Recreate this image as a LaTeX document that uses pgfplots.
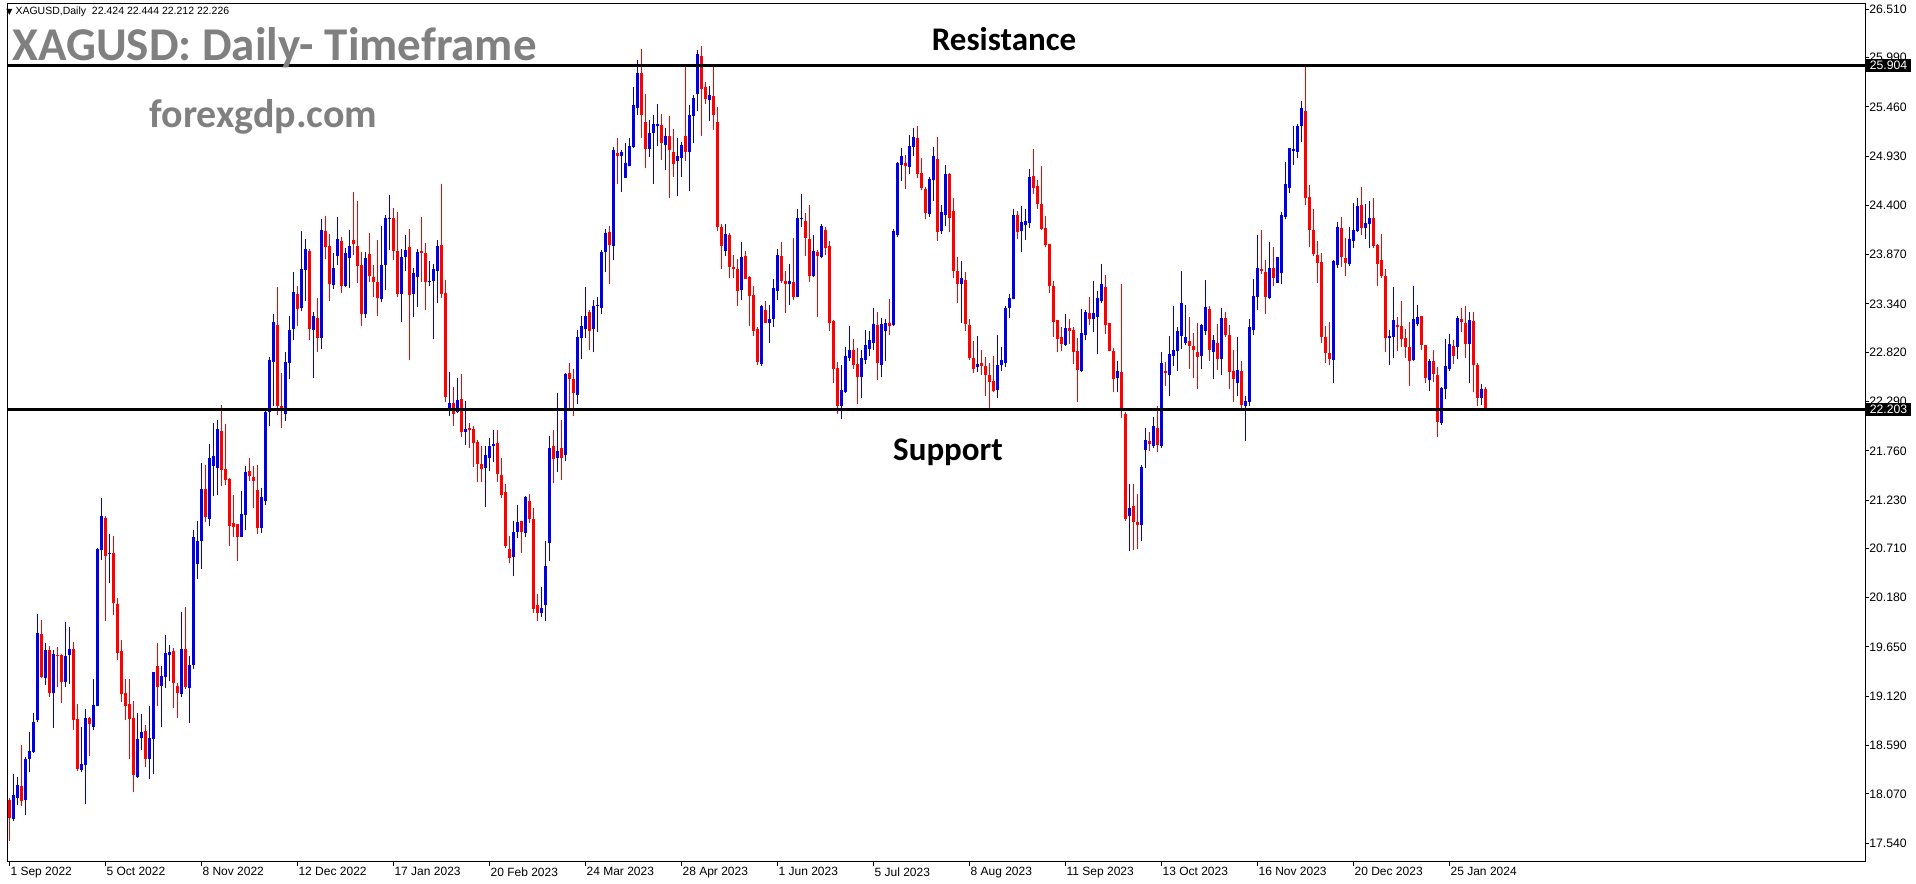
\documentclass[border=0pt]{standalone}
\usepackage{fontspec}
\usepackage{pgfplots}
\usepackage{pgfplotstable}
\pgfplotsset{compat=1.18}
\setmainfont{Liberation Sans}
\newfontfamily\calib{Carlito}
\newfontfamily\dejavu{DejaVu Sans}
\definecolor{upc}{RGB}{0,0,225}
\definecolor{dnc}{RGB}{255,0,0}
\definecolor{titlegray}{RGB}{128,128,128}

% up (blue) candles: index, open, high, low, close
\pgfplotstableread{
i o h l c
1 17.80 18.28 17.78 18.06
2 18.03 18.25 17.95 18.17
4 18.00 18.47 17.84 18.45
5 18.45 18.74 18.31 18.53
6 18.52 18.94 18.51 18.84
7 18.86 20.00 18.84 19.80
9 19.32 19.69 19.24 19.62
11 19.15 19.62 18.78 19.57
14 19.27 19.92 19.22 19.55
15 19.56 19.87 19.25 19.63
18 18.33 18.79 18.31 18.39
19 18.38 18.98 17.96 18.89
21 18.79 19.30 18.76 19.03
22 19.01 20.71 19.01 20.70
23 20.69 21.25 20.59 21.06
25 20.65 20.87 20.34 20.66
32 18.25 18.94 18.24 18.66
33 18.67 18.93 18.54 18.74
35 18.45 19.01 18.23 18.67
36 18.66 19.38 18.28 19.38
38 19.23 19.44 18.79 19.34
39 19.33 19.78 19.21 19.58
40 19.56 19.67 19.28 19.60
43 19.14 20.03 19.11 19.63
45 19.21 19.55 18.83 19.46
46 19.46 20.91 19.41 20.83
47 20.54 21.01 20.38 20.79
48 20.79 21.63 20.49 21.35
50 21.03 21.83 20.95 21.68
51 21.60 22.06 21.27 21.70
52 21.58 22.09 21.29 21.99
58 20.83 21.33 20.83 21.08
59 21.07 21.60 20.91 21.53
63 20.93 21.36 20.88 21.26
64 21.22 22.20 21.18 22.18
65 22.18 22.77 22.03 22.74
66 22.72 23.23 22.24 23.15
69 22.16 22.82 22.08 22.72
70 22.71 23.21 22.53 23.06
71 23.07 23.68 22.95 23.47
73 23.30 24.12 23.26 23.72
74 23.71 24.04 23.37 23.93
76 23.06 23.25 22.54 23.21
78 22.97 24.25 22.86 24.14
81 23.54 23.89 23.50 23.73
82 23.86 24.28 23.76 24.04
84 23.53 23.94 23.52 23.89
85 23.83 24.14 23.51 23.96
89 23.23 23.90 23.19 23.83
93 23.39 24.18 23.36 23.76
94 23.76 24.30 23.49 24.26
95 24.25 24.51 23.92 24.27
98 23.45 23.93 23.15 23.84
99 23.84 24.08 23.69 23.92
101 23.45 23.73 23.20 23.67
102 23.63 23.93 23.31 23.90
105 23.58 23.80 23.53 23.59
106 23.59 23.77 22.96 23.72
107 23.70 24.03 23.35 23.96
110 22.22 22.61 22.13 22.27
112 22.18 22.54 22.17 22.31
114 21.96 22.30 21.82 22.00
119 21.58 21.81 21.16 21.72
120 21.68 21.90 21.54 21.81
121 21.81 21.98 21.64 21.83
126 20.62 21.00 20.41 20.89
127 20.89 21.18 20.82 20.99
129 20.88 21.27 20.83 21.26
133 20.02 20.29 19.97 20.07
134 20.10 20.79 19.93 20.52
135 20.77 21.92 20.58 21.79
137 21.68 22.38 21.53 21.76
139 21.71 22.60 21.65 22.59
142 22.36 23.06 22.26 22.98
143 22.97 23.21 22.75 23.10
144 23.07 23.52 22.97 23.21
146 23.07 23.38 22.82 23.32
147 23.32 23.41 23.04 23.33
148 23.30 23.92 23.23 23.90
149 23.90 24.15 23.68 24.10
151 23.96 25.03 23.81 25.00
153 24.93 25.00 24.55 24.97
154 24.70 25.07 24.70 24.86
155 24.82 25.13 24.82 25.04
156 25.03 25.67 25.02 25.48
157 25.45 25.97 25.37 25.82
160 25.01 25.32 24.92 25.18
161 25.18 25.37 24.63 25.28
162 25.25 25.49 25.04 25.28
164 25.05 25.23 24.78 25.15
167 24.88 25.13 24.50 24.93
168 24.91 25.08 24.71 25.05
170 24.97 25.48 24.56 25.37
171 25.36 25.59 25.07 25.56
172 25.60 26.07 25.42 26.03
175 25.53 25.68 25.31 25.59
179 23.91 24.20 23.86 24.09
183 23.49 24.01 23.38 23.84
188 22.69 23.33 22.67 23.32
190 23.14 23.33 22.92 23.18
191 23.18 23.61 23.09 23.51
192 23.48 23.93 23.38 23.87
195 23.55 23.77 23.33 23.59
197 23.42 24.36 23.41 24.26
198 24.25 24.52 24.17 24.27
201 23.64 24.08 23.63 23.91
203 23.85 24.20 23.83 24.18
208 22.24 22.68 22.10 22.41
209 22.39 22.88 22.38 22.78
210 22.76 23.10 22.73 22.85
213 22.55 22.85 22.33 22.76
214 22.74 23.06 22.69 22.90
215 22.86 23.05 22.78 22.95
216 22.92 23.30 22.85 23.12
218 22.68 23.19 22.55 23.12
219 23.05 23.18 22.73 23.13
221 23.11 24.15 23.10 24.12
222 24.08 24.87 24.06 24.86
223 24.84 25.02 24.66 24.93
225 24.81 25.16 24.74 25.04
226 25.03 25.23 24.93 25.14
230 24.31 24.71 24.28 24.68
231 24.67 25.03 24.45 24.93
233 24.12 24.40 24.09 24.33
234 24.30 24.83 24.18 24.74
238 23.55 23.80 23.14 23.62
242 22.66 23.00 22.61 22.69
247 22.41 23.01 22.33 22.68
248 22.68 22.88 22.62 22.74
249 22.71 23.32 22.66 23.30
250 23.30 23.45 23.19 23.40
251 23.39 24.36 23.39 24.30
253 24.12 24.39 23.90 24.22
254 24.19 24.36 24.03 24.23
255 24.21 24.79 24.16 24.71
264 22.90 23.23 22.89 23.08
268 22.62 23.29 22.61 23.03
269 23.01 23.27 22.95 23.25
271 23.18 23.59 23.04 23.24
272 23.20 23.48 22.80 23.40
273 23.37 23.77 23.35 23.55
277 22.54 22.73 22.39 22.62
280 21.06 21.40 20.68 21.15
283 20.96 21.61 20.79 21.59
284 21.77 22.01 21.57 21.88
286 21.81 22.12 21.79 22.03
288 21.81 22.82 21.79 22.70
290 22.58 23.00 22.35 22.80
291 22.78 23.32 22.67 22.85
292 22.83 23.09 22.62 23.05
293 23.00 23.70 22.86 23.35
294 22.92 23.33 22.90 22.98
298 22.78 23.12 22.64 23.11
299 23.05 23.60 23.01 23.31
301 22.82 23.01 22.53 22.95
303 22.75 23.30 22.58 23.19
307 22.49 22.99 22.35 22.63
309 22.24 22.35 21.87 22.30
310 22.29 23.18 22.24 23.09
311 23.06 23.61 23.01 23.43
312 23.42 24.08 23.27 23.73
315 23.40 24.01 23.39 23.73
317 23.57 23.84 23.57 23.84
318 23.67 24.33 23.55 24.30
319 24.28 24.87 24.25 24.63
320 24.59 25.02 24.53 25.02
321 24.99 25.25 24.83 25.01
322 24.98 25.28 24.91 25.26
323 25.26 25.52 25.08 25.45
331 22.74 23.81 22.49 23.80
332 23.76 24.22 23.73 24.17
335 23.77 24.17 23.75 24.04
336 24.02 24.43 23.94 24.14
337 24.12 24.48 24.11 24.39
339 24.16 24.42 24.04 24.21
340 24.20 24.45 23.94 24.26
345 22.97 23.06 22.68 23.00
346 22.99 23.52 22.76 23.17
351 22.74 23.53 22.73 23.18
352 23.12 23.33 23.10 23.20
355 22.52 22.75 22.40 22.73
358 22.06 22.45 22.04 22.44
359 22.42 22.96 22.32 22.67
360 22.64 23.02 22.62 22.91
362 22.88 23.21 22.75 23.19
365 22.91 23.25 22.49 23.17
368 22.33 22.48 22.25 22.43
}\upT

% down (red) candles: index, open, high, low, close
\pgfplotstableread{
i o h l c
0 18.00 18.02 17.56 17.81
3 18.15 18.59 17.94 17.99
8 19.79 19.94 19.32 19.33
10 19.62 19.66 19.11 19.16
12 19.56 19.65 19.22 19.55
13 19.56 19.57 19.05 19.27
16 19.63 19.70 18.76 18.86
17 18.88 19.04 18.32 18.34
20 18.89 18.90 18.48 18.82
24 21.04 21.06 19.93 20.63
26 20.66 20.84 19.99 20.12
27 20.11 20.18 19.51 19.58
28 19.61 19.73 19.06 19.14
29 19.16 19.31 18.86 19.01
30 19.04 19.31 18.45 18.87
31 18.89 19.07 18.09 18.27
34 18.75 18.81 18.36 18.45
37 19.44 19.69 19.01 19.22
41 19.61 19.64 18.99 19.26
42 19.23 19.26 18.89 19.16
44 19.63 20.08 19.20 19.22
49 21.35 21.61 20.99 21.05
53 21.97 22.25 21.38 21.55
54 21.56 22.05 21.39 21.45
55 21.46 21.47 20.74 20.95
56 20.98 21.29 20.83 20.94
57 20.97 20.97 20.57 20.83
60 21.54 21.68 21.44 21.49
61 21.48 21.60 21.15 21.44
62 21.34 21.61 20.86 20.93
67 23.11 23.52 22.15 22.24
68 22.24 22.60 22.01 22.20
72 23.45 23.53 23.10 23.29
75 23.91 23.93 22.95 23.07
77 23.19 23.40 22.82 22.97
79 24.13 24.29 23.82 23.95
80 23.96 24.09 23.37 23.56
83 24.02 24.06 23.46 23.53
86 24.03 24.54 23.87 23.99
87 23.96 24.45 23.57 23.75
88 23.76 23.90 23.10 23.23
90 23.88 24.10 23.58 23.64
91 23.63 23.76 23.41 23.58
92 23.58 24.03 23.21 23.40
96 24.26 24.37 23.81 23.91
97 23.91 24.33 23.41 23.45
100 23.95 24.15 22.74 23.44
103 23.91 24.28 23.58 23.89
104 23.89 24.00 23.28 23.58
108 23.97 24.63 23.40 23.45
109 23.46 23.60 22.28 22.34
111 22.27 22.45 22.03 22.16
113 22.32 22.59 21.91 21.96
115 22.01 22.06 21.79 21.98
116 21.99 22.03 21.59 21.84
117 21.86 21.88 21.42 21.62
118 21.62 21.81 21.42 21.56
122 21.84 21.98 21.43 21.51
123 21.50 21.68 21.25 21.29
124 21.32 21.40 20.72 20.74
125 20.70 20.84 20.55 20.61
128 21.00 21.01 20.66 20.89
130 21.22 21.30 20.98 21.03
131 21.03 21.14 20.02 20.06
132 20.10 20.22 19.93 20.01
136 21.81 21.98 21.41 21.67
138 21.79 22.09 21.45 21.68
140 22.60 22.71 22.21 22.53
141 22.53 22.64 22.14 22.38
145 23.25 23.27 22.84 23.05
150 24.11 24.18 23.55 23.97
152 24.96 25.13 24.63 24.93
158 25.82 26.08 25.13 25.37
159 25.30 25.60 24.80 25.01
163 25.27 25.38 24.89 25.07
165 25.15 25.36 24.48 25.00
166 24.98 25.22 24.71 24.85
169 25.15 25.89 24.88 24.97
173 26.01 26.12 25.15 25.65
174 25.67 25.73 25.49 25.54
176 25.58 25.89 25.21 25.37
177 25.30 25.46 24.12 24.17
178 24.17 24.20 23.72 23.96
180 24.08 24.10 23.62 23.74
181 23.74 23.87 23.62 23.72
182 23.72 23.82 23.32 23.48
184 23.86 23.91 23.61 23.61
185 23.63 23.64 23.10 23.43
186 23.44 23.53 23.00 23.05
187 23.07 23.09 22.68 22.72
189 23.27 23.37 23.14 23.14
193 23.86 24.01 23.57 23.59
194 23.59 23.69 23.24 23.56
196 23.58 24.05 23.38 23.42
199 24.23 24.32 23.86 24.05
200 24.04 24.40 23.58 23.64
202 23.90 23.92 23.20 23.86
204 24.14 24.17 23.87 23.94
205 23.96 24.02 23.05 23.14
206 23.16 23.17 22.49 22.64
207 22.65 22.72 22.16 22.24
211 22.85 22.96 22.64 22.68
212 22.69 22.87 22.26 22.55
217 23.11 23.25 22.52 22.70
220 23.13 23.39 23.01 23.10
224 24.86 24.94 24.58 24.82
227 25.13 25.26 24.69 24.74
228 24.75 24.91 24.57 24.59
229 24.58 24.60 24.25 24.32
232 24.90 25.14 24.02 24.11
235 24.74 24.75 24.11 24.27
236 24.34 24.48 23.62 23.70
237 23.70 23.84 23.35 23.55
239 23.60 23.68 23.05 23.12
240 23.11 23.18 22.74 22.76
241 22.76 22.94 22.60 22.64
243 22.71 22.84 22.58 22.67
244 22.67 22.77 22.35 22.58
245 22.58 22.70 22.21 22.50
246 22.51 22.78 22.39 22.40
252 24.30 24.34 24.04 24.11
256 24.72 25.01 24.52 24.59
257 24.61 24.67 24.36 24.42
258 24.42 24.82 24.14 24.15
259 24.16 24.29 23.95 23.97
260 23.98 23.99 23.46 23.53
261 23.53 23.59 22.99 23.15
262 23.17 23.17 22.82 22.96
263 22.98 23.09 22.83 22.91
265 23.08 23.18 22.91 23.05
266 23.06 23.09 22.69 22.82
267 22.83 22.97 22.29 22.63
270 23.24 23.42 23.11 23.18
274 23.52 23.65 23.02 23.11
275 23.13 23.13 22.83 22.83
276 22.83 22.87 22.39 22.53
278 22.61 23.56 22.11 22.20
279 22.16 22.18 21.01 21.03
281 21.17 21.40 20.69 20.99
282 20.99 21.30 20.70 20.96
285 21.87 21.96 21.76 21.83
287 22.01 22.24 21.75 21.82
289 22.62 22.72 22.46 22.60
295 22.94 23.20 22.64 22.89
296 22.89 23.03 22.54 22.85
297 22.82 23.14 22.43 22.77
300 23.29 23.32 22.73 22.84
302 22.92 23.12 22.63 22.75
304 23.19 23.25 22.98 23.01
305 23.01 23.11 22.42 22.61
306 22.62 22.84 22.29 22.53
308 22.62 22.73 22.21 22.25
313 23.72 24.14 23.66 23.70
314 23.68 23.81 23.23 23.42
316 23.73 23.95 23.53 23.62
324 25.42 25.89 24.40 24.48
325 24.49 24.62 23.95 24.14
326 24.14 24.36 23.86 23.88
327 23.87 24.02 23.57 23.78
328 23.79 23.89 22.92 22.98
329 22.99 23.10 22.71 22.81
330 22.81 23.15 22.68 22.75
333 24.16 24.28 23.74 23.84
334 23.83 24.05 23.64 23.78
338 24.41 24.60 24.08 24.16
341 24.26 24.48 23.94 23.96
342 23.97 23.98 23.53 23.77
343 23.81 24.09 23.62 23.64
344 23.64 23.72 22.82 22.97
347 23.11 23.20 22.83 23.09
348 23.10 23.37 22.88 22.96
349 22.97 23.07 22.76 22.88
350 22.88 23.15 22.46 22.73
353 23.21 23.21 22.85 22.90
354 22.90 22.90 22.49 22.54
356 22.73 22.84 22.50 22.59
357 22.58 22.66 21.91 22.07
361 22.89 22.95 22.69 22.78
363 23.18 23.30 23.04 23.15
364 23.14 23.32 22.76 22.91
366 23.16 23.25 22.39 22.68
367 22.68 22.71 22.24 22.33
369 22.424 22.444 22.212 22.226
}\dnT

\pgfplotsset{
  candlepart/.style 2 args={forget plot, only marks, mark=*, mark size=0pt,
    mark options={draw=none, fill=none},
    error bars/.cd, y dir=plus, y explicit, error mark=none,
    error bar style={draw=#1, line width=#2}},
}

\begin{document}
\begin{tikzpicture}[x=0.4pt,y=0.4pt]
\path[use as bounding box] (0,0) rectangle (1916,884);
\fill[white] (0,0) rectangle (1916,884);
\begin{axis}[
  at={(2,24)}, anchor=south west,
  scale only axis, width=742.8pt, height=343.2pt,
  xmin=-0.325, xmax=463.9, ymin=17.34, ymax=26.571,
  axis line style={line width=0.4pt, black},
  xtick={0,24,48,72,96,120,144,168,192,216,240,264,288,312,336,360},
  xticklabels={1 Sep 2022,5 Oct 2022,8 Nov 2022,12 Dec 2022,17 Jan 2023,20 Feb 2023,24 Mar 2023,28 Apr 2023,1 Jun 2023,5 Jul 2023,8 Aug 2023,11 Sep 2023,13 Oct 2023,16 Nov 2023,20 Dec 2023,25 Jan 2024},
  ytick={26.510,25.990,25.460,24.930,24.400,23.870,23.340,22.820,22.290,21.760,21.230,20.710,20.180,19.650,19.120,18.590,18.070,17.540},
  yticklabels={26.510,25.990,25.460,24.930,24.400,23.870,23.340,22.820,22.290,21.760,21.230,20.710,20.180,19.650,19.120,18.590,18.070,17.540},
  xtick pos=bottom, ytick pos=right,
  tick align=outside, major tick length=1.6pt,
  tick style={black, line width=0.4pt},
  xticklabel style={anchor=north west, font=\fontsize{4.8}{5.5}\selectfont, inner sep=0.5pt, xshift=-0.2pt},
  yticklabel style={anchor=west, font=\fontsize{4.9}{6}\selectfont, inner sep=0.5pt, xshift=-0.6pt},
  clip=true,
]
% wicks
\addplot[candlepart={upc}{0.4pt}]
  table[x=i, y=l, y error expr=\thisrow{h}-\thisrow{l}] {\upT};
\addplot[candlepart={dnc}{0.4pt}]
  table[x=i, y=l, y error expr=\thisrow{h}-\thisrow{l}] {\dnT};
% bodies
\addplot[candlepart={upc}{1.2pt}]
  table[x=i, y=o, y error expr={max(\thisrow{c}-\thisrow{o},0.011)}] {\upT};
\addplot[candlepart={dnc}{1.2pt}]
  table[x=i, y=c, y error expr={max(\thisrow{o}-\thisrow{c},0.011)}] {\dnT};
% resistance and support
\addplot[forget plot, black, line width=1.2pt] coordinates {(-0.325,25.904) (463.9,25.904)};
\addplot[forget plot, black, line width=1.2pt] coordinates {(-0.325,22.203) (463.9,22.203)};
\coordinate (R) at (axis cs:463.9,25.904);
\coordinate (S) at (axis cs:463.9,22.203);
\end{axis}
\node[anchor=west, fill=black, text=white, font=\fontsize{4.9}{6}\selectfont, inner xsep=1.4pt, inner ysep=0.9pt] at ([xshift=0.3pt]R) {25.904};
\node[anchor=west, fill=black, text=white, font=\fontsize{4.9}{6}\selectfont, inner xsep=1.4pt, inner ysep=0.9pt] at ([xshift=0.3pt]S) {22.203};
\node[anchor=west, inner sep=0, font=\fontsize{4.2}{5}\selectfont] at (6,872) {{\dejavu\fontsize{3.2}{4}\selectfont ▼}\ XAGUSD,Daily\ \ 22.424 22.444 22.212 22.226};
\node[anchor=base west, inner sep=0, text=titlegray, font=\calib\bfseries\fontsize{18.8}{20}\selectfont] at (12,823) {XAGUSD: Daily- Timeframe};
\node[anchor=base west, inner sep=0, text=titlegray, font=\calib\bfseries\fontsize{16}{18}\selectfont] at (149,756) {forexgdp.com};
\node[anchor=base, inner sep=0, text=black, font=\calib\bfseries\fontsize{13.2}{15}\selectfont] at (1004,833) {Resistance};
\node[anchor=base, inner sep=0, text=black, font=\calib\bfseries\fontsize{13.2}{15}\selectfont] at (948,423) {Support};
\end{tikzpicture}
\end{document}
